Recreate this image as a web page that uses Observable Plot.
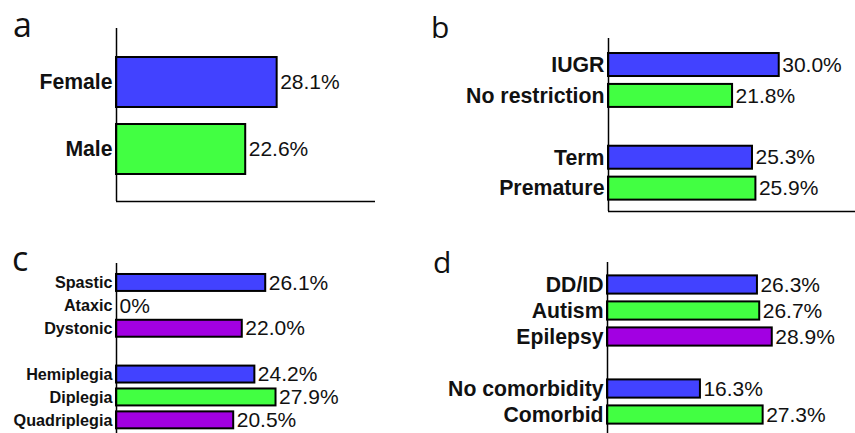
<!DOCTYPE html>
<html>
<head>
<meta charset="utf-8">
<script src="https://cdn.jsdelivr.net/npm/d3@7"></script>
<script src="https://cdn.jsdelivr.net/npm/@observablehq/plot@0.6"></script>
<style>
  html, body { margin: 0; padding: 0; background: #fff; overflow: hidden; }
  #root { position: relative; width: 855px; height: 433px; overflow: hidden; background: #fff; }
  .panel { position: absolute; }
  .letter { position: absolute; font-family: "Open Sans", sans-serif; color: #111; line-height: 1.2; }
</style>
</head>
<body>
<div id="root"></div>
<script>
const BLUE = "#4242ff", GREEN = "#42ff42", PURPLE = "#a200e2";

// Panel a: sex
const aLabels = ["Female", "Male"];
const aValues = [28.1, 22.6];
const aColors = [BLUE, GREEN];

// Panel b: growth / gestation
const bLabels = ["IUGR", "No restriction", "", "Term", "Premature"];
const bValues = [30.0, 21.8, null, 25.3, 25.9];
const bColors = [BLUE, GREEN, null, BLUE, GREEN];

// Panel c: CP type / distribution
const cLabels = ["Spastic", "Ataxic", "Dystonic", "", "Hemiplegia", "Diplegia", "Quadriplegia"];
const cValues = [26.1, 0, 22.0, null, 24.2, 27.9, 20.5];
const cColors = [BLUE, BLUE, PURPLE, null, BLUE, GREEN, PURPLE];

// Panel d: comorbidities
const dLabels = ["DD/ID", "Autism", "Epilepsy", "", "No comorbidity", "Comorbid"];
const dValues = [26.3, 26.7, 28.9, null, 16.3, 27.3];
const dColors = [BLUE, GREEN, PURPLE, null, BLUE, GREEN];

const panelLetters = ["a", "b", "c", "d"];

function fmt(v) { return v === 0 ? "0%" : v.toFixed(1) + "%"; }

function panel(labels, values, colors, L) {
  const rows = labels.map((label, i) => ({i, label, value: values[i], color: colors[i]}))
    .filter(d => d.label !== "");
  const bars = rows.filter(d => d.value > 0);
  const chart = Plot.plot({
    width: L.width, height: L.height,
    marginLeft: L.ml, marginRight: L.mr, marginTop: L.mt, marginBottom: L.mb,
    x: {domain: [0, L.xmax], axis: null},
    y: {domain: [L.ybottom, L.ytop], axis: null},
    color: {type: "identity"},
    style: {fontFamily: "'Liberation Sans', Arial, sans-serif", background: "transparent", overflow: "visible"},
    marks: [
      Plot.rect(bars, {x1: 0, x2: "value", y1: d => d.i - L.half, y2: d => d.i + L.half,
        fill: "color", stroke: "#000", strokeWidth: 2}),
      Plot.ruleX([0], {stroke: "#000", strokeWidth: 1.5}),
      Plot.ruleY([L.ybottom], {stroke: "#000", strokeWidth: 1.5}),
      Plot.text(rows, {x: 0, y: "i", text: "label", textAnchor: "end", dx: -4,
        fontSize: L.labelSize, fontWeight: "bold", fill: "#111"}),
      Plot.text(rows, {x: "value", y: "i", text: d => fmt(d.value), textAnchor: "start", dx: 3,
        fontSize: L.valueSize, fill: "#111"})
    ]
  });
  chart.classList.add("panel");
  chart.style.left = L.left + "px";
  chart.style.top = L.top + "px";
  return chart;
}

const root = document.getElementById("root");

root.appendChild(panel(aLabels, aValues, aColors, {
  left: 0, top: 0, width: 420, height: 215, ml: 116, mr: 45, mt: 28, mb: 14,
  xmax: 45.3, ytop: -0.806, ybottom: 1.776, half: 0.373, labelSize: 21.2, valueSize: 21
}));
root.appendChild(panel(bLabels, bValues, bColors, {
  left: 420, top: 0, width: 435, height: 220, ml: 188, mr: 0, mt: 38, mb: 9,
  xmax: 43.4, ytop: -0.858, ybottom: 4.74, half: 0.372, labelSize: 21.3, valueSize: 21
}));
root.appendChild(panel(cLabels, cValues, cColors, {
  left: 0, top: 230, width: 420, height: 210, ml: 116, mr: 45, mt: 33, mb: 0,
  xmax: 45.3, ytop: -0.85, ybottom: 6.88, half: 0.37, labelSize: 16.2, valueSize: 21
}));
root.appendChild(panel(dLabels, dValues, dColors, {
  left: 420, top: 230, width: 435, height: 210, ml: 187, mr: 0, mt: 32, mb: 0,
  xmax: 43.5, ytop: -0.865, ybottom: 5.98, half: 0.35, labelSize: 21.2, valueSize: 21
}));

const letterPos = [
  {left: 13, top: 4, size: 34},
  {left: 431, top: 9, size: 30},
  {left: 12, top: 238, size: 34},
  {left: 433, top: 244, size: 30}
];
panelLetters.forEach((t, k) => {
  const el = document.createElement("div");
  el.className = "letter";
  el.textContent = t;
  el.style.left = letterPos[k].left + "px";
  el.style.top = letterPos[k].top + "px";
  el.style.fontSize = letterPos[k].size + "px";
  root.appendChild(el);
});
</script>
</body>
</html>
